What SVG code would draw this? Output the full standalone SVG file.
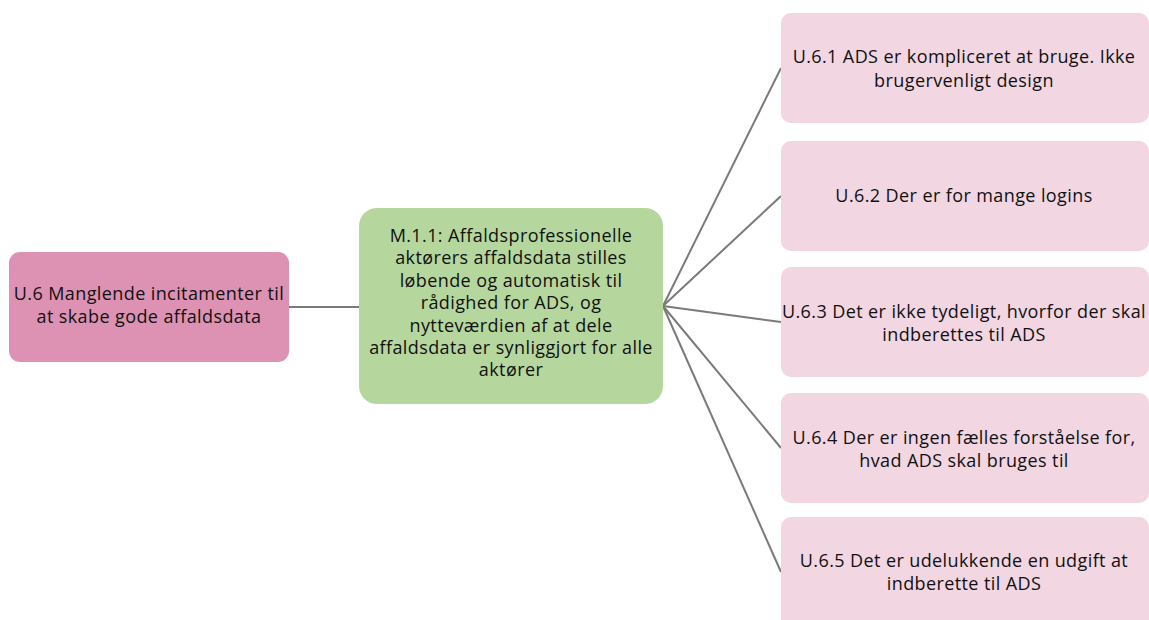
<svg xmlns="http://www.w3.org/2000/svg" width="1149" height="620" viewBox="0 0 1149 620">
  <style>
    .lbl { font-family: "Open Sans", "Liberation Sans", Arial, sans-serif; font-size: 18px; letter-spacing: 0.4px; fill: #111; text-anchor: middle; }
    .root { fill: #dd92b3; }
    .mid { fill: #b5d79d; }
    .leaf { fill: #f2d6e2; }
    .conn { stroke: #7a7a7a; stroke-width: 2; fill: none; }
  </style>
  <rect width="1149" height="620" fill="#ffffff"/>

  <g id="connectors">
    <line class="conn" x1="289" y1="307" x2="360" y2="307"/>
    <line class="conn" x1="663" y1="306" x2="781" y2="68"/>
    <line class="conn" x1="663" y1="306" x2="781" y2="196"/>
    <line class="conn" x1="663" y1="306" x2="781" y2="322"/>
    <line class="conn" x1="663" y1="306" x2="781" y2="448"/>
    <line class="conn" x1="663" y1="306" x2="781" y2="572"/>
  </g>

  <g id="u6">
    <rect class="root" x="9" y="252" width="280" height="110" rx="11"/>
    <text class="lbl" x="149" y="300">U.6 Manglende incitamenter til</text>
    <text class="lbl" x="149" y="323">at skabe gode affaldsdata</text>
  </g>

  <g id="m111">
    <rect class="mid" x="359" y="208" width="304" height="196" rx="18"/>
    <text class="lbl" x="511" y="242">M.1.1: Affaldsprofessionelle</text>
    <text class="lbl" x="511" y="264">aktørers affaldsdata stilles</text>
    <text class="lbl" x="511" y="287">løbende og automatisk til</text>
    <text class="lbl" x="511" y="309">rådighed for ADS, og</text>
    <text class="lbl" x="511" y="332">nytteværdien af at dele</text>
    <text class="lbl" x="511" y="354">affaldsdata er synliggjort for alle</text>
    <text class="lbl" x="511" y="376">aktører</text>
  </g>

  <g id="u61">
    <rect class="leaf" x="781" y="13" width="368" height="110" rx="10"/>
    <text class="lbl" x="964" y="63">U.6.1 ADS er kompliceret at bruge. Ikke</text>
    <text class="lbl" x="964" y="87">brugervenligt design</text>
  </g>

  <g id="u62">
    <rect class="leaf" x="781" y="141" width="368" height="110" rx="10"/>
    <text class="lbl" x="964" y="202">U.6.2 Der er for mange logins</text>
  </g>

  <g id="u63">
    <rect class="leaf" x="781" y="267" width="368" height="110" rx="10"/>
    <text class="lbl" x="964" y="318">U.6.3 Det er ikke tydeligt, hvorfor der skal</text>
    <text class="lbl" x="964" y="341">indberettes til ADS</text>
  </g>

  <g id="u64">
    <rect class="leaf" x="781" y="393" width="368" height="110" rx="10"/>
    <text class="lbl" x="964" y="444">U.6.4 Der er ingen fælles forståelse for,</text>
    <text class="lbl" x="964" y="467">hvad ADS skal bruges til</text>
  </g>

  <g id="u65">
    <rect class="leaf" x="781" y="517" width="368" height="115" rx="10"/>
    <text class="lbl" x="964" y="567">U.6.5 Det er udelukkende en udgift at</text>
    <text class="lbl" x="964" y="590">indberette til ADS</text>
  </g>
</svg>
